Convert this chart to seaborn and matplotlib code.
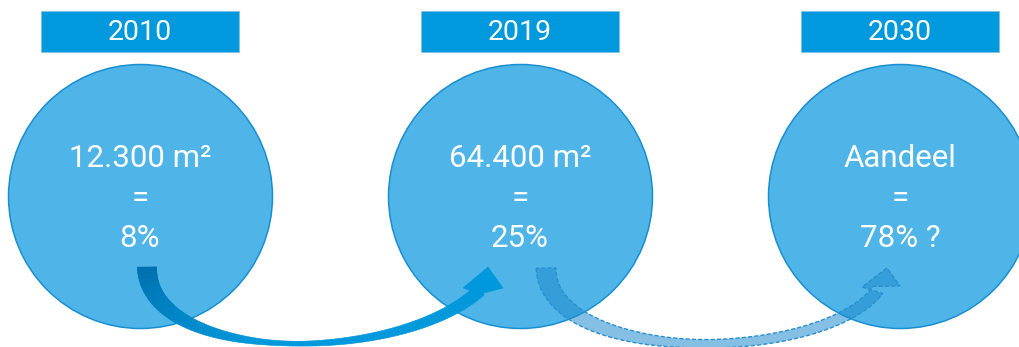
import numpy as np
import matplotlib
matplotlib.use("Agg")
import matplotlib.pyplot as plt
import matplotlib.colors as mcolors
from matplotlib.patches import Polygon, Rectangle
import pandas as pd
import seaborn as sns

# ---- data ----
years = ["2010", "2019", "2030"]
amounts = ["12.300 m²", "64.400 m²", "Aandeel"]
shares = ["8%", "25%", "78% ?"]

sns.set_theme(style="white")
plt.rcParams['font.family'] = ['Roboto', 'DejaVu Sans']

W, H, DPI = 1019, 347, 100
fig = plt.figure(figsize=(W / DPI, H / DPI), dpi=DPI)
ax = fig.add_axes([0, 0, 1, 1])

HEADER = "#0099DD"
CIRCLE_FILL = "#4FB4E8"
CIRCLE_EDGE = "#1A8FD0"

x0, dx = 140, 380
cy, r = 196, 132
xs = [x0 + dx * i for i in range(len(years))]

df = pd.DataFrame({"year": years, "x": xs, "y": [cy] * len(years)})

# circles
diam_pt = 2 * r * 72 / DPI
sns.scatterplot(data=df, x="x", y="y", s=diam_pt ** 2, color=CIRCLE_FILL,
                edgecolor=CIRCLE_EDGE, linewidth=1.1, ax=ax, legend=False,
                zorder=2, clip_on=False)
ax.set_xlim(0, W)
ax.set_ylim(H, 0)
ax.axis("off")

# headers
bw, bh, by = 198, 41, 11
for x, yr in zip(xs, years):
    ax.add_patch(Rectangle((x - bw / 2, by), bw, bh, facecolor=HEADER,
                           edgecolor="#7fbfe0", linewidth=0.5, zorder=3))
    ax.text(x, by + bh / 2 + 1, yr, color="white", fontsize=20.5,
            ha="center", va="center", zorder=4)

# circle texts
for x, a, s in zip(xs, amounts, shares):
    ax.text(x, 158, a, color="white", fontsize=22.5, ha="center", va="center", zorder=4)
    ax.text(x, 198, "=", color="white", fontsize=22.5, ha="center", va="center", zorder=4)
    ax.text(x, 238, s, color="white", fontsize=22.5, ha="center", va="center", zorder=4)


def bezier(P, n=120):
    t = np.linspace(0, 1, n)[:, None]
    P = np.asarray(P, float)
    pts = ((1 - t) ** 3) * P[0] + 3 * ((1 - t) ** 2) * t * P[1] + 3 * (1 - t) * t ** 2 * P[2] + t ** 3 * P[3]
    d = -3 * (1 - t) ** 2 * P[0] + 3 * ((1 - t) ** 2 - 2 * (1 - t) * t) * P[1] \
        + 3 * (2 * (1 - t) * t - t ** 2) * P[2] + 3 * t ** 2 * P[3]
    d = d / np.linalg.norm(d, axis=1, keepdims=True)
    nrm = np.stack([-d[:, 1], d[:, 0]], axis=1)
    return pts, d, nrm, t[:, 0]


def arrow_geom(P, widths, head):
    pts, d, nrm, t = bezier(P)
    w = np.interp(t, [0, 0.5, 1], widths)
    # smooth the width profile
    w = np.convolve(np.pad(w, 8, mode="edge"), np.ones(17) / 17, mode="valid")
    w = w[:, None] / 2
    left = pts + nrm * w
    right = pts - nrm * w
    end = pts[-1]
    hl, tip, hr = [end + np.array(o, float) for o in head]
    return pts, left, right, tip, hl, hr, t


# solid arrow 2010 -> 2019 (gradient)
P1 = [(xs[0] + 7, 267), (xs[0] + 8, 365), (xs[1] - 120, 365), (xs[1] - 40, 290)]
pts, left, right, tip, hl, hr, t = arrow_geom(
    P1, [20, 4, 13], [(-17, -2), (8, -23), (23, -2)])
c0 = np.array(mcolors.to_rgb("#006FAD"))
c1 = np.array(mcolors.to_rgb("#0098DC"))
for i in range(len(pts) - 1):
    f = min(1.0, (t[i] / 0.45)) ** 0.8
    col = c0 + (c1 - c0) * f
    quad = [left[i], left[i + 1], right[i + 1], right[i]]
    ax.add_patch(Polygon(quad, closed=True, facecolor=col, edgecolor=col,
                         linewidth=0.4, zorder=5))
ax.add_patch(Polygon([hl, tip, hr, pts[-1] + (0, 4)], closed=True, facecolor=c1,
                     edgecolor=c1, linewidth=0.4, zorder=5))

# dashed translucent arrow 2019 -> 2030
P2 = [(xs[1] + 26, 268), (xs[1] + 28, 365), (xs[2] - 80, 365), (xs[2] - 22, 290)]
pts, left, right, tip, hl, hr, t = arrow_geom(
    P2, [20, 8, 12], [(-16, -3), (9, -22), (22, -4)])
outline = np.vstack([left, [hl, tip, hr], right[::-1]])
ax.add_patch(Polygon(outline, closed=True, facecolor=(0.13, 0.55, 0.80, 0.55),
                     edgecolor="none", zorder=5))
ax.add_patch(Polygon(outline, closed=True, facecolor="none",
                     edgecolor="#2A8FD0", linewidth=1.0, linestyle=(0, (3, 1.5)),
                     zorder=6))

fig.savefig("out.png", dpi=DPI)
